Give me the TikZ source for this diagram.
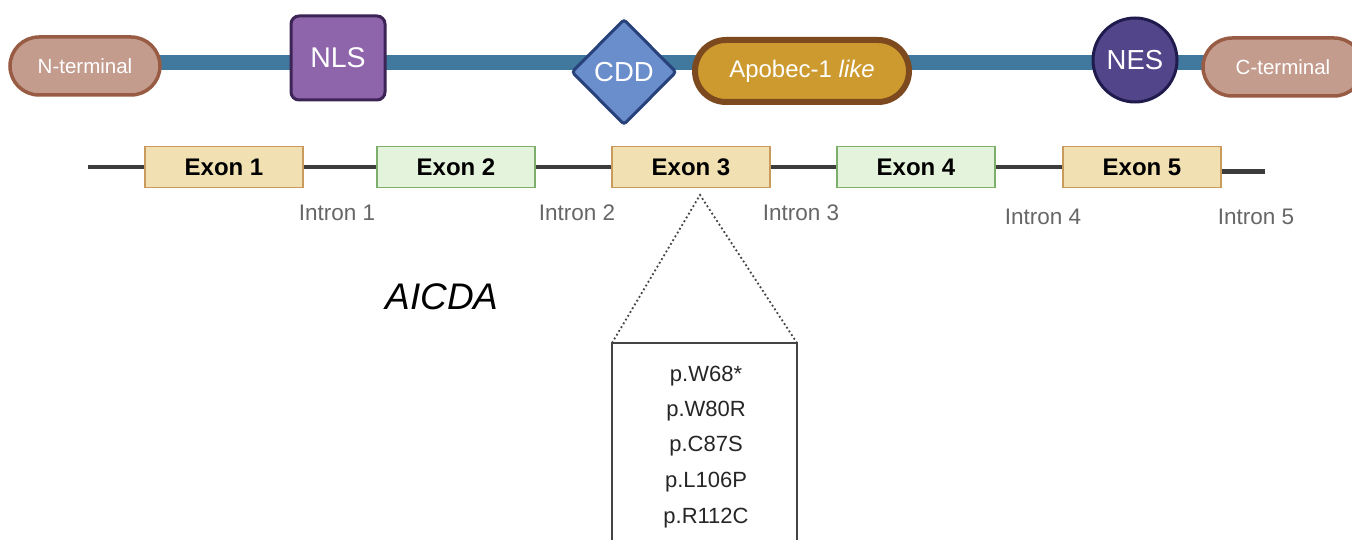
\documentclass[tikz,border=0pt]{standalone}
\usepackage{fontspec}
\setmainfont{Liberation Sans}
\usetikzlibrary{shapes.geometric,shapes.misc}
\definecolor{backbone}{HTML}{41789E}
\definecolor{termfill}{HTML}{C49C8E}
\definecolor{termdraw}{HTML}{985B43}
\definecolor{nlsfill}{HTML}{8E65AB}
\definecolor{nlsdraw}{HTML}{3D2456}
\definecolor{cddfill}{HTML}{6A8DCB}
\definecolor{cdddraw}{HTML}{27417A}
\definecolor{apofill}{HTML}{CD9A2F}
\definecolor{apodraw}{HTML}{7C4A1E}
\definecolor{nesfill}{HTML}{52458A}
\definecolor{nesdraw}{HTML}{201B4D}
\definecolor{exAfill}{HTML}{F1E0B2}
\definecolor{exAdraw}{HTML}{C99A5B}
\definecolor{exBfill}{HTML}{E4F3DB}
\definecolor{exBdraw}{HTML}{7DAF6A}
\definecolor{geneline}{HTML}{3C3C3C}
\definecolor{introntext}{HTML}{666666}
\definecolor{mutbox}{HTML}{444444}
\tikzset{
  fs/.style={font=\fontsize{#1}{#1}\selectfont},
  pill/.style={rounded rectangle, draw=termdraw, fill=termfill, line width=3.5pt,
    text=white, fs=20.5, minimum height=58pt, inner xsep=0pt},
  exonbox/.style={rectangle, line width=1.5pt, minimum width=158pt, minimum height=41pt,
    font=\bfseries\fontsize{24}{24}\selectfont, inner sep=0pt},
  exonA/.style={exonbox, draw=exAdraw, fill=exAfill},
  exonB/.style={exonbox, draw=exBdraw, fill=exBfill},
  introntag/.style={text=introntext, fs=22.5, inner sep=0pt},
  mutation/.style={text=black!85, fs=22, inner sep=0pt},
}
\begin{document}
\begin{tikzpicture}[x=1pt,y=-1pt]
\useasboundingbox (0,0) rectangle (1352,540);
\fill[white] (0,0) rectangle (1352,540);

% protein domain map
\coordinate (bbL) at (150,63);
\coordinate (bbR) at (1215,63);
\draw[backbone, line width=15pt] (bbL) -- (bbR);
\node[pill, minimum width=150pt] (nterm) at (85,66) {N-terminal};
\node[pill, minimum width=160pt] (cterm) at (1283,67) {C-terminal};
\node[rectangle, rounded corners=8pt, draw=nlsdraw, fill=nlsfill, line width=3pt,
      minimum width=94pt, minimum height=84pt, text=white, fs=28.5] (nls) at (338,58) {NLS};
\node[diamond, draw=cdddraw, fill=cddfill, line width=3pt, rounded corners=3pt,
      minimum width=105pt, minimum height=106pt, inner sep=0pt, text=white, fs=27.5] (cdd) at (624,72) {CDD};
\node[rounded rectangle, draw=apodraw, fill=apofill, line width=6pt,
      minimum width=214pt, minimum height=62pt, inner xsep=0pt, text=white, fs=24] (apo) at (802,71) {Apobec-1 \textit{like}};
\node[circle, draw=nesdraw, fill=nesfill, line width=3pt, minimum size=84pt,
      inner sep=0pt, text=white, fs=27.5] (nes) at (1135,60) {NES};

% gene structure
\coordinate (gL) at (88,167);
\coordinate (gR) at (1265,172);
\node[exonA] (ex1) at (224,167) {Exon 1};
\node[exonB] (ex2) at (456,167) {Exon 2};
\node[exonA] (ex3) at (691,167) {Exon 3};
\node[exonB] (ex4) at (916,167) {Exon 4};
\node[exonA] (ex5) at (1142,167) {Exon 5};
\begin{scope}[geneline, line width=4pt]
  \draw (gL) -- (ex1.west);
  \draw (ex1.east) -- (ex2.west);
  \draw (ex2.east) -- (ex3.west);
  \draw (ex3.east) -- (ex4.west);
  \draw (ex4.east) -- (ex5.west);
  \draw[line width=5pt] (ex5.east |- gR) -- (gR);
\end{scope}
\node[introntag] (in1) at (337,213) {Intron 1};
\node[introntag] (in2) at (577,213) {Intron 2};
\node[introntag] (in3) at (801,213) {Intron 3};
\node[introntag] (in4) at (1043,217) {Intron 4};
\node[introntag] (in5) at (1256,217) {Intron 5};

\node[font=\itshape\fontsize{37}{37}\selectfont] (gene) at (442,297) {AICDA};

% exon 3 variants
\coordinate (apex) at (700,195);
\coordinate (boxL) at (612,343);
\coordinate (boxR) at (797,343);
\draw[mutbox, line width=2pt] (612,560) -- (boxL) -- (boxR) -- (797,560);
\draw[mutbox, line width=1.8pt, dash pattern=on 1.8pt off 2.6pt] (boxL) -- (apex) -- (boxR);
\node[mutation] (m1) at (706,376) {p.W68*};
\node[mutation] (m2) at (706,411) {p.W80R};
\node[mutation] (m3) at (706,446) {p.C87S};
\node[mutation] (m4) at (706,482) {p.L106P};
\node[mutation] (m5) at (706,518) {p.R112C};
\end{tikzpicture}
\end{document}
